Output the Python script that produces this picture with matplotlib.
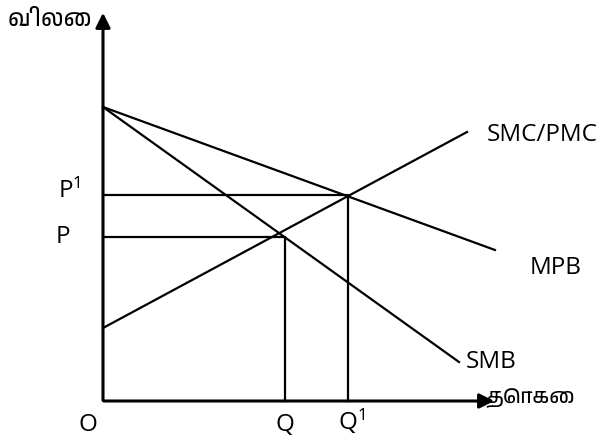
import matplotlib
matplotlib.use("Agg")
import matplotlib.pyplot as plt
from matplotlib import font_manager

# pick a font that has Tamil glyphs if one exists
tamil_fonts = [f.name for f in font_manager.fontManager.ttflist if "Tamil" in f.name]
latin = "Open Sans"
tamil_family = (sorted(set(tamil_fonts))[:1] or []) + ["Noto Sans", "DejaVu Sans"]

plt.rcParams["mathtext.fontset"] = "custom"
plt.rcParams["mathtext.rm"] = latin

# diagram values (origin O at 0,0)
axis_top = 391
axis_right = 394
demand_intercept = 294          # where MPB and SMB start on the price axis
mpb_x = [0, 392]
mpb_y = [demand_intercept, 151]
smb_x = [0, 356]
smb_y = [demand_intercept, 39]
smc_x = [0, 364]
smc_y = [73, 269]
P, Q = 164, 182
P1, Q1 = 206, 245

fig = plt.figure(figsize=(6.09, 4.42), dpi=100)
ax = fig.add_axes([0, 0, 1, 1])
ax.set_xlim(-103, 506)
ax.set_ylim(-41, 401)
ax.axis("off")

# axes with arrow heads
ax.annotate("", xy=(0, axis_top), xytext=(0, -2),
            arrowprops=dict(arrowstyle="-|>", lw=2.2, color="black", mutation_scale=22))
ax.annotate("", xy=(axis_right, 0), xytext=(-2, 0),
            arrowprops=dict(arrowstyle="-|>", lw=2.2, color="black", mutation_scale=22))

# curves
ax.plot(mpb_x, mpb_y, color="black", lw=1.6)
ax.plot(smb_x, smb_y, color="black", lw=1.6)
ax.plot(smc_x, smc_y, color="black", lw=1.6)

# guide lines
ax.plot([0, Q, Q], [P, P, 0], color="black", lw=1.6)
ax.plot([0, Q1, Q1], [P1, P1, 0], color="black", lw=1.6)

fs = 17.5
ax.text(-95, 381, "விலை", family=tamil_family, fontsize=16.5, va="center", ha="left")
ax.text(-34, 210, r"$\mathregular{P^1}$", fontsize=fs, va="center", ha="center", family=latin)
ax.text(-40, 164, "P", fontsize=fs, va="center", ha="center", family=latin)
ax.text(-15, -24, "O", fontsize=fs, va="center", ha="center", family=latin)
ax.text(Q, -24, "Q", fontsize=fs, va="center", ha="center", family=latin)
ax.text(Q1 + 4, -20, r"$\mathregular{Q^1}$", fontsize=fs, va="center", ha="center", family=latin)
ax.text(384, 266, "SMC/PMC", fontsize=fs, va="center", ha="left", family=latin)
ax.text(427, 133, "MPB", fontsize=fs, va="center", ha="left", family=latin)
ax.text(363, 39, "SMB", fontsize=fs, va="center", ha="left", family=latin)
ax.text(383, 3, "தொகை", family=tamil_family, fontsize=15, va="center", ha="left")

fig.savefig("out.png", dpi=100)
